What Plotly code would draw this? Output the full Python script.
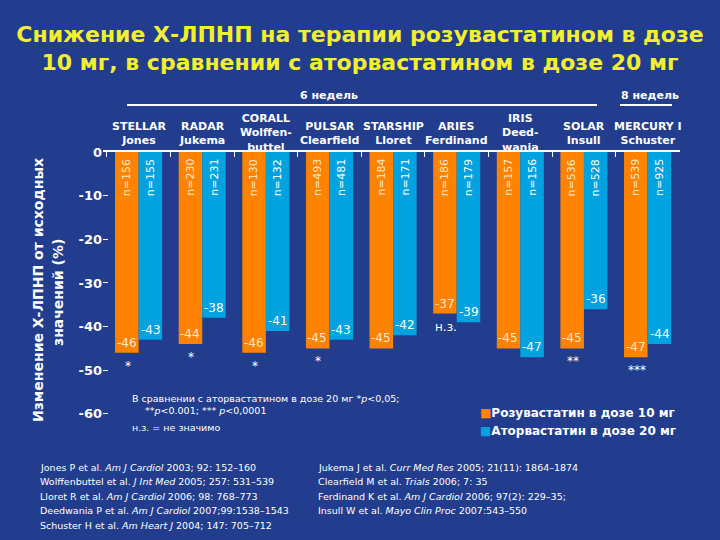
import plotly.graph_objects as go

# ---------------- data ----------------
studies = ["STELLAR", "RADAR", "CORALL", "PULSAR", "STARSHIP", "ARIES", "IRIS", "SOLAR", "MERCURY I"]
authors = ["Jones", "Jukema", "Wolffen-<br>buttel", "Clearfield", "Lloret", "Ferdinand", "Deed-<br>wania", "Insull", "Schuster"]
rosuva_10 = [-46, -44, -46, -45, -45, -37, -45, -45, -47]
atorva_20 = [-43, -38, -41, -43, -42, -39, -47, -36, -44]
n_rosuva = [156, 230, 130, 493, 184, 186, 157, 536, 539]
n_atorva = [155, 231, 132, 481, 171, 179, 156, 528, 925]
significance = ["*", "*", "*", "*", "", "н.з.", "", "**", "***"]
y_ticks = [0, -10, -20, -30, -40, -50, -60]
y_tick_text = ["0", "-10", "-20", "-30", "-40", "-50", "-60"]

refs_left = [
    "Jones P et al. <i>Am J Cardiol</i> 2003; 92: 152–160",
    "Wolffenbuttel et al. <i>J Int Med</i> 2005; 257: 531–539",
    "Lloret R et al. <i>Am J Cardiol</i> 2006; 98: 768–773",
    "Deedwania P et al. <i>Am J Cardiol</i> 2007;99:1538–1543",
    "Schuster H et al. <i>Am Heart J</i> 2004; 147: 705–712",
]
refs_right = [
    "Jukema J et al. <i>Curr Med Res</i> 2005; 21(11): 1864–1874",
    "Clearfield M et al. <i>Trials</i> 2006; 7: 35",
    "Ferdinand K et al. <i>Am J Cardiol</i> 2006; 97(2): 229–35;",
    "Insull W et al. <i>Mayo Clin Proc</i> 2007:543–550",
    "",
]

BG = "#223d8d"
ORANGE = "#ff8200"
BLUE = "#00a2e0"
FONT = "DejaVu Sans"

fig = go.Figure()
fig.add_trace(go.Bar(x=studies, y=rosuva_10, name="Розувастатин в дозе 10 мг",
                     marker=dict(color=ORANGE, line_width=0), showlegend=False, hoverinfo="skip"))
fig.add_trace(go.Bar(x=studies, y=atorva_20, name="Аторвастатин в дозе 20 мг",
                     marker=dict(color=BLUE, line_width=0), showlegend=False, hoverinfo="skip"))

ann = []
for i, s in enumerate(studies):
    three = "<br>" in authors[i]
    ann.append(dict(x=s, y=0, xref="x", yref="y", yanchor="bottom", yshift=(-4 if three else 3),
                    text="<b>%s<br>%s</b>" % (s, authors[i]), showarrow=False,
                    font=dict(family=FONT, size=11, color="white")))
    ann.append(dict(x=s, y=0, xref="x", yref="y", xshift=-12, yanchor="top", yshift=-5,
                    text="n=%d" % n_rosuva[i], textangle=-90, showarrow=False,
                    font=dict(family=FONT, size=11, color="#ffe9c8")))
    ann.append(dict(x=s, y=0, xref="x", yref="y", xshift=12, yanchor="top", yshift=-5,
                    text="n=%d" % n_atorva[i], textangle=-90, showarrow=False,
                    font=dict(family=FONT, size=11, color="white")))
    ann.append(dict(x=s, y=rosuva_10[i], xref="x", yref="y", xshift=-12, yanchor="bottom", yshift=1,
                    text=str(rosuva_10[i]), showarrow=False,
                    font=dict(family=FONT, size=12, color="#ffe9c8")))
    ann.append(dict(x=s, y=atorva_20[i], xref="x", yref="y", xshift=12, yanchor="bottom", yshift=1,
                    text=str(atorva_20[i]), showarrow=False,
                    font=dict(family=FONT, size=12, color="white")))
    if significance[i]:
        ann.append(dict(x=s, y=rosuva_10[i], xref="x", yref="y", xshift=-11, yanchor="top", yshift=-4,
                        text=significance[i], showarrow=False,
                        font=dict(family=FONT, size=12, color="white")))

def px_x(p):
    return (p - 103) / 577.0

def px_y(p):
    return (427 - p) / 275.0

def txt(text, x, y, size, xanchor="center", angle=0):
    return dict(x=px_x(x), y=px_y(y), xref="paper", yref="paper", xanchor=xanchor, yanchor="middle",
                text=text, showarrow=False, textangle=angle,
                font=dict(family=FONT, size=size, color="white"))

ann.append(txt("<b>6 недель</b>", 329, 95, 11))
ann.append(txt("<b>8 недель</b>", 650, 95, 11))

ann.append(txt("<b>Изменение Х-ЛПНП от исходных</b>", 38, 290, 14, angle=-90))
ann.append(txt("<b>значений (%)</b>", 58, 293, 14, angle=-90))

foot = [("В сравнении с аторвастатином в дозе 20 мг *<i>p</i>&lt;0,05;", 130, 398),
        ("**<i>p</i>&lt;0.001; *** <i>p</i>&lt;0,0001", 143, 410),
        ("н.з. = не значимо", 130, 427)]
for t, xx, yy in foot:
    ann.append(txt(t, xx, yy, 9.5, xanchor="left"))

ann.append(txt('<span style="color:%s">■</span><b>Розувастатин в дозе 10 мг</b>' % ORANGE, 478, 413, 12, xanchor="left"))
ann.append(txt('<span style="color:%s">■</span><b>Аторвастатин в дозе 20 мг</b>' % BLUE, 478, 431, 12, xanchor="left"))

for k in range(len(refs_left)):
    yy = 467 + k * 14.6
    ann.append(txt(refs_left[k], 38, yy, 9.5, xanchor="left"))
    if refs_right[k]:
        ann.append(txt(refs_right[k], 316, yy, 9.5, xanchor="left"))

shapes = [
    dict(type="line", xref="paper", yref="paper", x0=px_x(127), x1=px_x(597), y0=px_y(105), y1=px_y(105),
         line=dict(color="white", width=2)),
    dict(type="line", xref="paper", yref="paper", x0=px_x(620), x1=px_x(672), y0=px_y(105), y1=px_y(105),
         line=dict(color="white", width=2)),
]

fig.update_layout(
    width=720, height=540,
    paper_bgcolor=BG, plot_bgcolor=BG,
    margin=dict(l=103, r=40, t=152, b=113),
    barmode="group", bargap=0.26, bargroupgap=0,
    title=dict(text="<b>Снижение Х-ЛПНП на терапии розувастатином в дозе<br>10 мг, в сравнении с аторвастатином в дозе 20 мг</b>",
               x=0.5, xref="container", xanchor="center", y=1 - 41.5 / 540.0, yref="container", yanchor="middle",
               font=dict(family=FONT, size=22, color="#f2ef2e")),
    annotations=ann, shapes=shapes,
    showlegend=False,
)
fig.update_xaxes(side="top", range=[-0.56, 8.51], showline=True, linecolor="white", linewidth=2,
                 ticks="inside", tickson="boundaries", ticklen=5, tickcolor="white",
                 showticklabels=False, showgrid=False, zeroline=False)
fig.update_yaxes(range=[-63, 0], tickvals=y_ticks, ticktext=y_tick_text, ticks="inside", ticklen=5, tickcolor="white",
                 tickfont=dict(family=FONT, size=13, color="white", weight="bold"),
                 showgrid=False, zeroline=False, showline=False)

fig.write_html("out.html", config={"displayModeBar": False},
               post_script="document.body.style.margin='0';document.body.style.overflow='hidden';")
